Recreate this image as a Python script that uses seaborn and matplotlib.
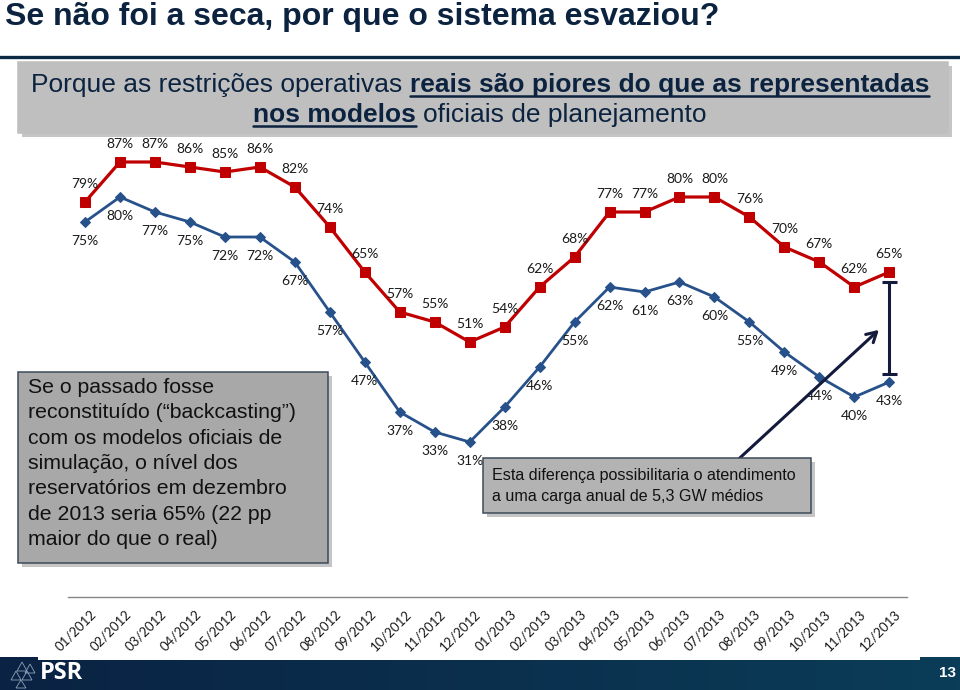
import numpy as np
import pandas as pd
import seaborn as sns
import matplotlib
matplotlib.use("Agg")
import matplotlib.pyplot as plt
import matplotlib.transforms as mtransforms
from matplotlib.patches import Rectangle, Polygon
from matplotlib.lines import Line2D

# data
months = ["01/2012", "02/2012", "03/2012", "04/2012", "05/2012", "06/2012",
          "07/2012", "08/2012", "09/2012", "10/2012", "11/2012", "12/2012",
          "01/2013", "02/2013", "03/2013", "04/2013", "05/2013", "06/2013",
          "07/2013", "08/2013", "09/2013", "10/2013", "11/2013", "12/2013"]
backcasting = [79, 87, 87, 86, 85, 86, 82, 74, 65, 57, 55, 51,
               54, 62, 68, 77, 77, 80, 80, 76, 70, 67, 62, 65]
real = [75, 80, 77, 75, 72, 72, 67, 57, 47, 37, 33, 31,
        38, 46, 55, 62, 61, 63, 60, 55, 49, 44, 40, 43]

title = "Se não foi a seca, por que o sistema esvaziou?"
subtitle = [[("Porque as restrições operativas", False), ("reais são piores do que as representadas", True)],
            [("nos modelos", True), ("oficiais de planejamento", False)]]
left_note = ("Se o passado fosse\nreconstituído (\u201cbackcasting\u201d)\ncom os modelos oficiais de\n"
             "simulação, o nível dos\nreservatórios em dezembro\nde 2013 seria 65% (22 pp\nmaior do que o real)")
gap_note = "Esta diferença possibilitaria o atendimento\na uma carga anual de 5,3 GW médios"

RED = "#C00000"
BLUE = "#27518A"
NAVY = "#0c2340"
SANS = "Liberation Sans"
W, H = 960, 690

sns.set_style("white")
plt.rcParams["font.family"] = ["Lato", "DejaVu Sans"]


def fx(px):
    return px / W


def fy(py):
    return 1 - py / H


df = pd.DataFrame({"idx": np.arange(len(months)), "month": months,
                   "backcasting": backcasting, "real": real})

fig = plt.figure(figsize=(9.6, 6.9), dpi=100)
fig.patch.set_facecolor("white")
ax = fig.add_axes([fx(67.5), fy(597), fx(906.8) - fx(67.5), fy(97) - fy(597)])

sns.lineplot(data=df, x="idx", y="backcasting", ax=ax, color=RED, lw=2.3,
             marker="s", markersize=6.5, markeredgecolor=RED, zorder=3)
sns.lineplot(data=df, x="idx", y="real", ax=ax, color=BLUE, lw=2.0,
             marker="D", markersize=5, markeredgecolor=BLUE, zorder=3)

for i, v in enumerate(backcasting):
    ax.annotate(f"{v}%", (i, v), xytext=(0, 13), textcoords="offset points",
                ha="center", va="center", fontsize=10, color="#1a1a1a")
for i, v in enumerate(real):
    ax.annotate(f"{v}%", (i, v), xytext=(0, -13.5), textcoords="offset points",
                ha="center", va="center", fontsize=10, color="#1a1a1a")

ax.set_xlim(-0.5, len(months) - 0.5)
ax.set_ylim(0, 100)
ax.set_xlabel("")
ax.set_ylabel("")
ax.set_yticks([])
ax.set_xticks(df["idx"])
ax.set_xticklabels(months, rotation=45, ha="right", rotation_mode="anchor",
                   fontsize=9.5, color="#1a1a1a")
ax.set_xticks(np.arange(-0.5, len(months), 1), minor=True)
ax.tick_params(axis="x", which="major", length=0, pad=8)
ax.tick_params(axis="x", which="minor", length=5, width=1, color="#868686", direction="out")
shift = mtransforms.ScaledTranslation(5 / 100, 0, fig.dpi_scale_trans)
for lab in ax.get_xticklabels():
    lab.set_transform(lab.get_transform() + shift)
for s in ["top", "left", "right"]:
    ax.spines[s].set_visible(False)
ax.spines["bottom"].set_color("#868686")
ax.spines["bottom"].set_linewidth(1)

# gap marker between the two December 2013 values
last = len(months) - 1
g_top, g_bot = backcasting[-1] - 2, real[-1] + 1.6
ax.vlines(last, g_bot, g_top, color="#141a3c", lw=2.2, zorder=4)
ax.hlines([g_top, g_bot], last - 0.22, last + 0.22, color="#141a3c", lw=2.2, zorder=4)
ax.annotate("", xy=(last - 0.24, 53.8), xytext=(18.6, 27.0),
            arrowprops=dict(arrowstyle="->,head_length=0.7,head_width=0.4",
                            color="#141a3c", lw=2.2), zorder=4)


def box(x0, y0, x1, y1, fc, ec="#3d4b5c"):
    sh = Rectangle((fx(x0 + 4), fy(y1 + 4)), fx(x1 - x0), fy(y0) - fy(y1),
                   transform=fig.transFigure, fc="#7f7f7f", ec="none", alpha=0.45, zorder=5)
    r = Rectangle((fx(x0), fy(y1)), fx(x1 - x0), fy(y0) - fy(y1),
                  transform=fig.transFigure, fc=fc, ec=ec, lw=1.1, zorder=6)
    fig.add_artist(sh)
    fig.add_artist(r)


# header
fig.text(fx(5), fy(17), title, fontsize=23, fontweight="bold", family=SANS,
         color=NAVY, va="center", ha="left")
fig.add_artist(Line2D([0, 1], [fy(57), fy(57)], transform=fig.transFigure,
                      color="#0d2a45", lw=2.4))
box(18, 62, 948, 133, "#bfbfbf", ec="#bfbfbf")

renderer = fig.canvas.get_renderer()
sub_size = 19
probe1 = fig.text(0, 0, "x x", fontsize=sub_size, family=SANS)
probe2 = fig.text(0, 0, "xx", fontsize=sub_size, family=SANS)
space_w = probe1.get_window_extent(renderer).width - probe2.get_window_extent(renderer).width
probe1.remove()
probe2.remove()
for line, base in zip(subtitle, [92, 122]):
    items = []
    for s, bold in line:
        t = fig.text(0, fy(base), s, fontsize=sub_size, family=SANS, color=NAVY,
                     fontweight="bold" if bold else "normal", va="baseline", ha="left", zorder=7)
        items.append((t, t.get_window_extent(renderer).width, bold))
    total = sum(w for _, w, _ in items) + space_w * (len(items) - 1)
    x = (W - total) / 2
    for t, w, bold in items:
        t.set_x(fx(x))
        if bold:
            fig.add_artist(Line2D([fx(x), fx(x + w)], [fy(base + 4), fy(base + 4)],
                                  transform=fig.transFigure, color=NAVY, lw=1.8, zorder=7))
        x += w + space_w

# notes
box(18, 372, 328, 563, "#a8a8a8")
fig.text(fx(28), fy(378), left_note, fontsize=15.3, family=SANS, color="#111111",
         va="top", ha="left", linespacing=1.42, zorder=7)
box(483, 458, 811, 513, "#b3b3b3")
fig.text(fx(492), fy(486), gap_note, fontsize=11.6, family=SANS, color="#111111",
         va="center", ha="left", linespacing=1.45, zorder=7)

# footer bar
bar = fig.add_axes([0, 0, 1, fy(660)])
grad = np.linspace(0, 1, 256).reshape(1, -1)
cmap = matplotlib.colors.LinearSegmentedColormap.from_list("bar", ["#0a2243", "#0b3d58"])
bar.imshow(grad, aspect="auto", cmap=cmap, extent=[0, 1, 0, 1])
bar.set_axis_off()
fig.add_artist(Rectangle((0, fy(660)), fx(38), fy(657) - fy(660), transform=fig.transFigure,
                         fc="#0a2243", ec="none"))
fig.add_artist(Rectangle((fx(920), fy(660)), fx(40), fy(657) - fy(660), transform=fig.transFigure,
                         fc="#0b3d58", ec="none"))
for tri in [[(22, 662), (17, 671), (27, 671)], [(16, 671), (11, 680), (21, 680)],
            [(27, 671), (22, 680), (32, 680)], [(21, 680), (16, 688), (26, 688)],
            [(30, 664), (25, 673), (35, 673)]]:
    fig.add_artist(Polygon([(fx(a), fy(b)) for a, b in tri], closed=True, fill=False,
                           ec="#8fa3b8", lw=0.6, transform=fig.transFigure, zorder=8))
fig.text(fx(40), fy(673), "PSR", fontsize=17, fontweight="bold", family="Open Sans",
         color="white", va="center", ha="left", zorder=8)
fig.text(fx(947), fy(673), "13", fontsize=11, fontweight="bold", family=SANS,
         color="white", va="center", ha="center", zorder=8)

fig.savefig("out.png", dpi=100)
